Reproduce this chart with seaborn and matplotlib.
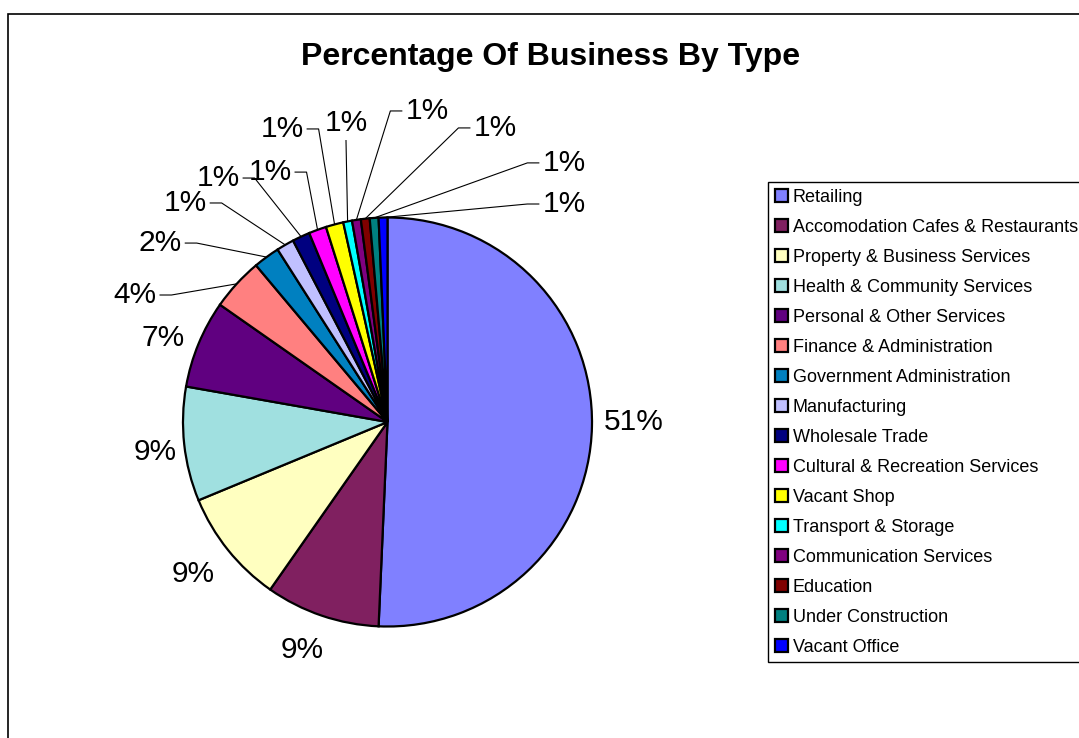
import matplotlib
matplotlib.use("Agg")
import matplotlib.pyplot as plt
import matplotlib.patches as mpatches
import numpy as np
import seaborn as sns

# Business counts by type
categories = [
    "Retailing",
    "Accomodation Cafes & Restaurants",
    "Property & Business Services",
    "Health & Community Services",
    "Personal & Other Services",
    "Finance & Administration",
    "Government Administration",
    "Manufacturing",
    "Wholesale Trade",
    "Cultural & Recreation Services",
    "Vacant Shop",
    "Transport & Storage",
    "Communication Services",
    "Education",
    "Under Construction",
    "Vacant Office",
]
counts = [73, 13, 13, 13, 10, 6, 3, 2, 2, 2, 2, 1, 1, 1, 1, 1]
slice_colors = [
    "#8080FF", "#802060", "#FFFFC0", "#A0E0E0", "#600080", "#FF8080",
    "#0080C0", "#C0C0FF", "#000080", "#FF00FF", "#FFFF00", "#00FFFF",
    "#800080", "#800000", "#008080", "#0000FF",
]
title = "Percentage Of Business By Type"

sns.set_theme(style="white")
plt.rcParams["font.family"] = ["Liberation Sans", "DejaVu Sans"]
plt.rcParams["text.color"] = "black"

palette = sns.color_palette(slice_colors)

W, H = 1079, 738
fig = plt.figure(figsize=(W / 100, H / 100), dpi=100)

# pie placement (pixels)
cx, cy, rad = 387.5, 422.0, 204.5
ax = fig.add_axes([(cx - rad) / W, (H - cy - rad) / H, 2 * rad / W, 2 * rad / H])
wedges, _ = ax.pie(
    counts, colors=palette, startangle=90, counterclock=False, radius=1.0,
    wedgeprops=dict(edgecolor="black", linewidth=1.6),
)
ax.set_xlim(-1, 1)
ax.set_ylim(-1, 1)
ax.set_aspect("equal")
ax.axis("off")

# percentage labels (rounded half up)
total = float(sum(counts))
pct_text = [f"{int(np.floor(c / total * 100 + 0.5))}%" for c in counts]

# label layout in pie-radius units
label_pos = [
    (1.205, 0.0), (-0.418, -1.115), (-0.951, -0.743), (-1.137, -0.147),
    (-1.098, 0.411), (-1.235, 0.621), (-1.112, 0.875), (-0.990, 1.071),
    (-0.829, 1.193), (-0.575, 1.222), (-0.516, 1.433), (-0.203, 1.462),
    (0.193, 1.521), (0.526, 1.438), (0.863, 1.267), (0.863, 1.066),
]
first_leader = 5

texts = []
for (lx, ly), t in zip(label_pos, pct_text):
    texts.append(ax.text(lx, ly, t, ha="center", va="center", fontsize=21.5,
                         color="black", clip_on=False))

fig.canvas.draw()
renderer = fig.canvas.get_renderer()
px = 1.0 / rad  # one pixel in data units
gap, stub = 3 * px, 12 * px

for i in range(first_leader, len(wedges)):
    w = wedges[i]
    th = np.deg2rad((w.theta1 + w.theta2) / 2)
    axx, axy = np.cos(th), np.sin(th)
    lx, ly = label_pos[i]
    bb = texts[i].get_window_extent(renderer)
    half_w = bb.width / 2 * px
    half_h = bb.height / 2 * px
    if abs(axx - lx) < 0.06:
        xs = [lx, axx]
        ys = [ly - half_h - gap, axy]
    else:
        d = np.sign(axx - lx)
        x0 = lx + d * (half_w + gap)
        x1 = x0 + d * stub
        xs = [x0, x1, axx]
        ys = [ly, ly, axy]
    ax.plot(xs, ys, color="black", linewidth=0.8, clip_on=False,
            solid_capstyle="butt")

fig.text(551 / W, 1 - 57 / H, title, ha="center", va="center",
         fontsize=23, fontweight="bold", color="black")

leg = fig.legend(
    wedges, categories, loc="upper left",
    bbox_to_anchor=(768 / W, 1 - 182 / H), bbox_transform=fig.transFigure,
    frameon=True, fancybox=False, edgecolor="black", framealpha=1,
    fontsize=13, handlelength=0.75, handleheight=0.75, handletextpad=0.25,
    labelspacing=0.72, borderpad=0.36, borderaxespad=0,
)
leg.get_frame().set_linewidth(1.0)
for t in leg.get_texts():
    t.set_color("black")

# outer chart-area border
fig.patches.append(mpatches.Rectangle(
    (8 / W, -0.1), 1.2, 1 - 14 / H + 0.1, transform=fig.transFigure,
    fill=False, edgecolor="black", linewidth=1.2))

fig.savefig("out.png", dpi=100)
